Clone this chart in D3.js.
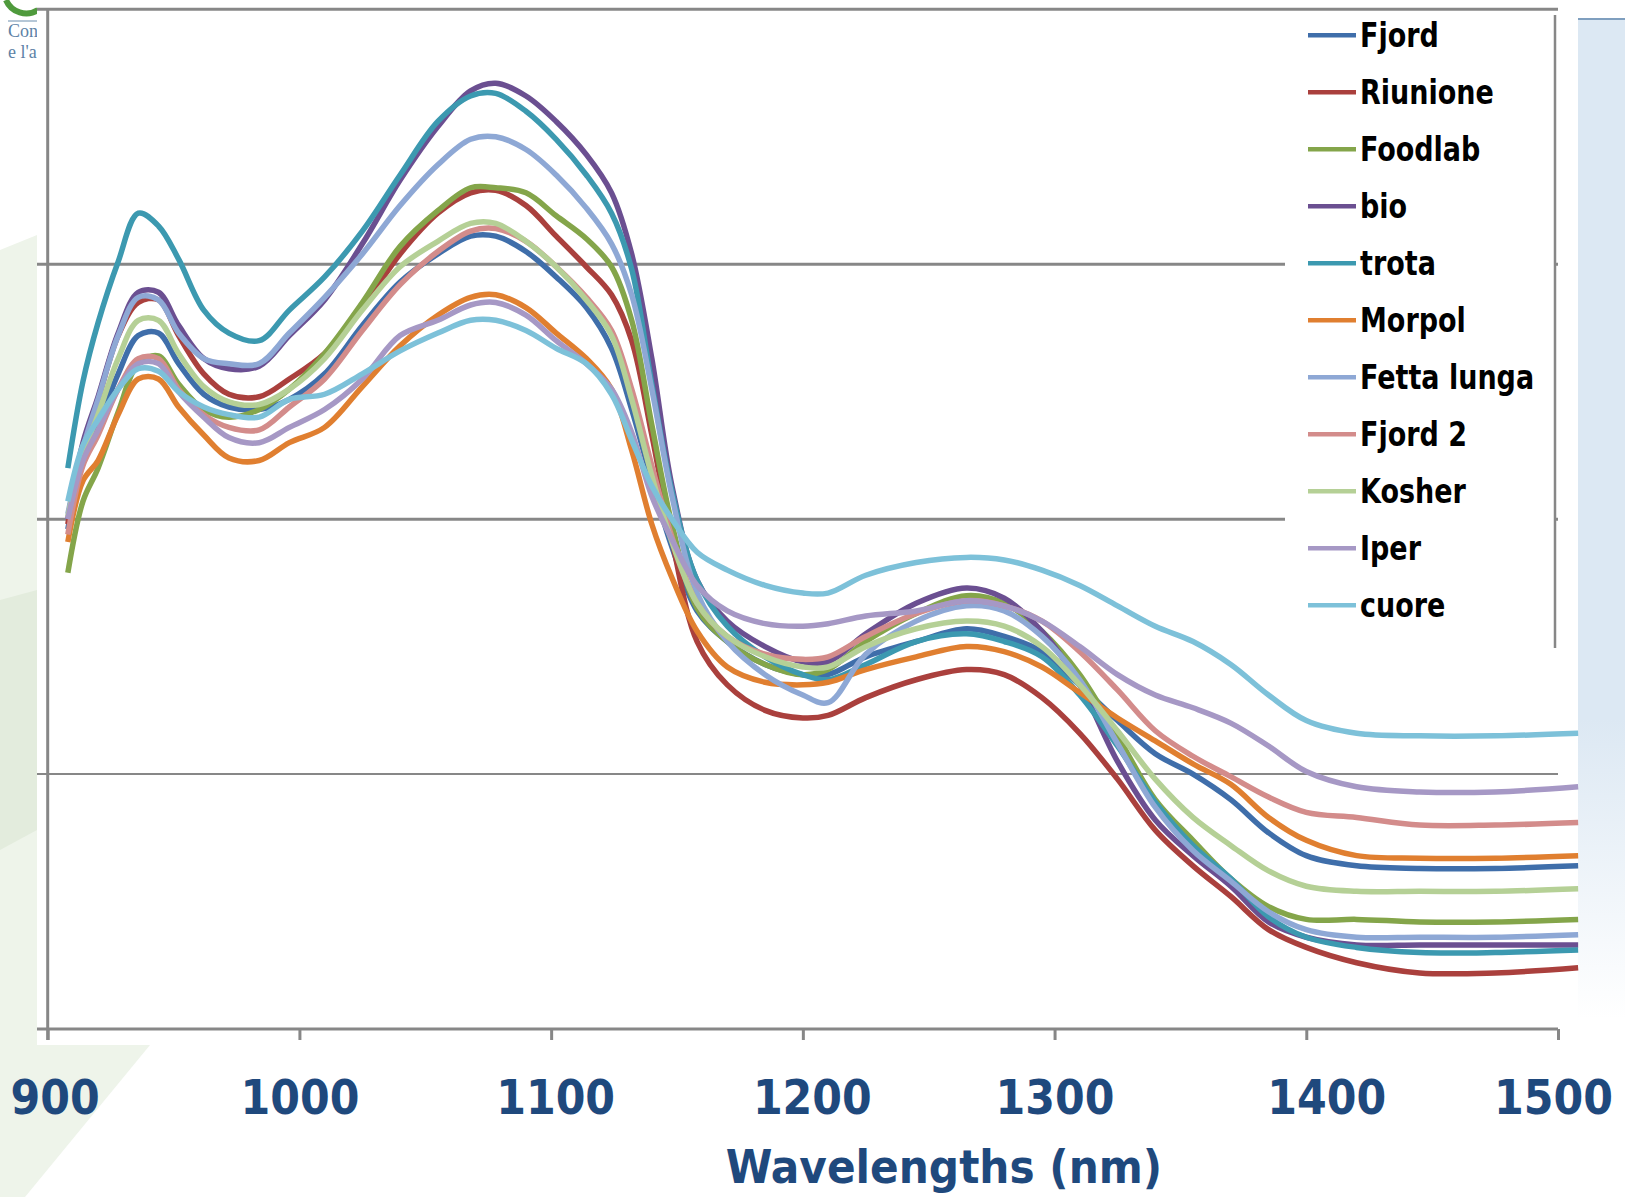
<!DOCTYPE html>
<html>
<head>
<meta charset="utf-8">
<script src="https://cdn.jsdelivr.net/npm/d3@7"></script>
<style>
  html, body { margin: 0; padding: 0; background: #fff; }
  svg { display: block; }
</style>
</head>
<body>
<svg width="1625" height="1197"></svg>
<script>
var wavelengths = [908, 914, 920, 928, 936, 944, 952, 962, 972, 984, 996, 1010, 1025, 1040, 1055, 1068, 1078, 1090, 1102, 1114,
  1124, 1132, 1140, 1148, 1158, 1170, 1185, 1200, 1210, 1225, 1245, 1265, 1280, 1295, 1310, 1325, 1340, 1355, 1370, 1385,
  1400, 1420, 1445, 1475, 1508];

// one array per sample (y units are arbitrary, the chart shows no y labels)
var fjord      = [196,223,237,257,272,273,261,249,244,243,247,257,276,293,304,311,311,305,295,283,267,243,215,189,164,152,143,139,139,146,152,157,154,148,135,121,108,100,90,77,68,64,63,63,64];
var riunione   = [198,229,247,272,285,286,272,257,249,248,255,265,283,304,320,328,329,323,311,299,288,270,233,192,152,135,125,122,123,130,137,141,139,130,116,98,78,64,52,39,32,26,22,22,24];
var foodlab    = [179,207,220,242,261,264,253,243,240,243,251,265,285,307,321,330,330,328,319,310,299,278,237,198,165,152,143,139,141,152,163,170,167,156,139,115,90,74,59,48,43,43,42,42,43];
var bio        = [200,230,248,273,289,289,276,263,259,260,272,286,308,333,354,368,371,366,356,343,328,304,263,213,176,160,150,144,144,155,167,173,169,156,135,105,82,68,56,42,36,33,33,33,33];
var trota      = [220,254,277,301,320,315,302,282,273,270,282,295,313,335,356,366,367,360,349,335,320,298,253,211,176,158,146,139,137,143,152,155,152,146,131,111,89,72,59,44,36,32,30,30,31];
var morpol     = [191,215,223,241,255,255,244,233,224,223,230,236,252,268,280,287,288,283,273,263,251,227,198,177,156,142,136,135,136,141,146,150,148,142,132,122,113,104,96,83,74,68,67,67,68];
var fettaLunga = [202,228,247,272,287,286,273,263,261,261,273,287,304,323,339,349,350,345,335,322,308,288,251,209,171,152,139,131,128,147,160,166,164,154,137,112,87,70,58,46,39,36,36,36,37];
var fjord2     = [194,221,233,251,263,263,251,241,236,235,244,255,274,292,305,313,314,309,299,287,274,251,221,193,167,154,147,145,146,154,163,168,166,160,148,133,117,107,99,91,85,83,80,80,81];
var kosher     = [201,225,241,263,278,278,265,252,246,245,251,263,282,299,309,316,316,309,299,286,272,247,217,191,167,154,146,142,142,150,157,160,158,150,135,117,98,83,72,62,56,54,54,54,55];
var iper       = [200,223,235,251,261,261,250,240,232,230,236,243,255,272,278,284,285,280,270,261,251,234,209,192,174,164,159,158,159,162,164,168,166,160,150,139,131,126,120,111,101,95,93,93,95];
var cuore      = [207,229,239,251,259,258,250,244,241,240,247,249,257,266,273,278,278,274,267,261,249,231,213,200,187,180,174,171,171,178,183,185,184,180,174,166,158,152,143,131,121,116,115,115,116];

var seriesNames  = ["Fjord", "Riunione", "Foodlab", "bio", "trota", "Morpol", "Fetta lunga", "Fjord 2", "Kosher", "Iper", "cuore"];
var seriesColors = ["#3f6eaa", "#aa403d", "#84a54a", "#6b4f91", "#3c99b0", "#e07f30", "#8ea8d5", "#d38c8b", "#b5d096", "#a698c5", "#7dc1d9"];
var seriesValues = [fjord, riunione, foodlab, bio, trota, morpol, fettaLunga, fjord2, kosher, iper, cuore];

var xTicks = [900, 1000, 1100, 1200, 1300, 1400, 1500];
var yGrid = [100, 200, 300, 400];
var xTitle = "Wavelengths (nm)";

var series = seriesNames.map(function(name, i) {
  return {
    name: name,
    color: seriesColors[i],
    points: wavelengths.map(function(w, j) { return [w, seriesValues[i][j]]; })
  };
});

var svg = d3.select("svg");
var x = d3.scaleLinear().domain([900, 1500]).range([47.7, 1558]);
var y = d3.scaleLinear().domain([0, 400]).range([1029, 9.3]);
var axisColor = "#878787";

// slide background bits around the chart
svg.append("polygon")
  .attr("points", "0,250 37,235 37,1045 150,1045 25,1197 0,1197")
  .attr("fill", "#eef4ea");
svg.append("polygon")
  .attr("points", "0,600 37,590 37,830 0,850")
  .attr("fill", "#e3ecdd");
var grad = svg.append("defs").append("linearGradient")
  .attr("id", "panelFade").attr("x1", 0).attr("y1", 0).attr("x2", 0).attr("y2", 1);
grad.append("stop").attr("offset", "0%").attr("stop-color", "#dce8f3");
grad.append("stop").attr("offset", "70%").attr("stop-color", "#dce8f3");
grad.append("stop").attr("offset", "100%").attr("stop-color", "#ffffff");
svg.append("rect")
  .attr("x", 1578).attr("y", 19).attr("width", 47).attr("height", 1000)
  .attr("fill", "url(#panelFade)");
svg.append("line")
  .attr("x1", 1578).attr("x2", 1625).attr("y1", 19).attr("y2", 19)
  .attr("stroke", "#7f9fbf").attr("stroke-width", 2);

// chart area
svg.append("rect")
  .attr("x", 37).attr("y", 0).attr("width", 1541).attr("height", 1045)
  .attr("fill", "#fff");

// logo fragment top left
svg.append("path")
  .attr("d", "M6,0 A22,22 0 0 0 38,10")
  .attr("fill", "none").attr("stroke", "#4f9a3c").attr("stroke-width", 6);
svg.append("line")
  .attr("x1", 8).attr("x2", 37).attr("y1", 21).attr("y2", 21)
  .attr("stroke", "#6d8fae").attr("stroke-width", 1);
svg.append("text").attr("x", 8).attr("y", 37)
  .style("font-family", "Liberation Serif").style("font-size", "18px").attr("fill", "#5d82a6")
  .text("Cons");
svg.append("text").attr("x", 8).attr("y", 58)
  .style("font-family", "Liberation Serif").style("font-size", "18px").attr("fill", "#5d82a6")
  .text("e l'a");
svg.append("rect").attr("x", 37).attr("y", 0).attr("width", 30).attr("height", 70).attr("fill", "#fff");

// horizontal gridlines
svg.selectAll("line.grid")
  .data(yGrid)
  .enter()
  .append("line")
  .attr("class", "grid")
  .attr("x1", 37).attr("x2", 1558)
  .attr("y1", function(d) { return y(d); })
  .attr("y2", function(d) { return y(d); })
  .attr("stroke", axisColor)
  .attr("stroke-width", function(d) { return d === 100 ? 2 : 3; });

// y axis line
svg.append("line")
  .attr("x1", x(900)).attr("x2", x(900))
  .attr("y1", y(400)).attr("y2", y(0) + 11)
  .attr("stroke", axisColor).attr("stroke-width", 3);

// x axis line + ticks + labels
svg.append("line")
  .attr("x1", 37).attr("x2", x(1500))
  .attr("y1", y(0)).attr("y2", y(0))
  .attr("stroke", axisColor).attr("stroke-width", 3);

// the labels in the picture sit a little off their ticks
var labelShift = [7, 0, 4, 9, 0, 20, -5];

var xAxis = svg.append("g")
  .attr("transform", "translate(0," + y(0) + ")")
  .call(d3.axisBottom(x).tickValues(xTicks).tickSize(11).tickPadding(40).tickSizeOuter(0).tickFormat(d3.format("d")));
xAxis.select(".domain").remove();
xAxis.selectAll(".tick line").attr("stroke", axisColor).attr("stroke-width", 3);
xAxis.selectAll(".tick text")
  .attr("dx", function(d, i) { return labelShift[i]; })
  .attr("fill", "#1f497d")
  .style("font-family", "'DejaVu Sans Condensed', 'DejaVu Sans'")
  .style("font-weight", "bold")
  .style("font-size", "47.5px");

svg.append("text")
  .attr("x", 944).attr("y", 1183)
  .attr("text-anchor", "middle")
  .attr("fill", "#1f497d")
  .style("font-family", "'DejaVu Sans Condensed', 'DejaVu Sans'")
  .style("font-weight", "bold")
  .style("font-size", "47px")
  .text(xTitle);

// spectra
var line = d3.line()
  .x(function(d) { return x(d[0]); })
  .y(function(d) { return y(d[1]); })
  .curve(d3.curveCatmullRom.alpha(0.5));

svg.selectAll("path.spectrum")
  .data(series)
  .enter()
  .append("path")
  .attr("class", "spectrum")
  .attr("d", function(d) { return line(d.points); })
  .attr("fill", "none")
  .attr("stroke", function(d) { return d.color; })
  .attr("stroke-width", 5.5)
  .attr("stroke-linejoin", "round");

// legend
svg.append("rect")
  .attr("x", 1285).attr("y", 15).attr("width", 270).attr("height", 633)
  .attr("fill", "#fff");
svg.append("line")
  .attr("x1", 1555).attr("x2", 1555).attr("y1", 15).attr("y2", 648)
  .attr("stroke", axisColor).attr("stroke-width", 2.5);

var legend = svg.selectAll("g.legend")
  .data(series)
  .enter()
  .append("g")
  .attr("class", "legend")
  .attr("transform", function(d, i) { return "translate(0," + (35.2 + 57 * i) + ")"; });

legend.append("line")
  .attr("x1", 1308).attr("x2", 1356)
  .attr("stroke", function(d) { return d.color; })
  .attr("stroke-width", 4.5);

legend.append("text")
  .attr("transform", "translate(1360,12) scale(1,1.12)")
  .attr("fill", "#000")
  .style("font-family", "'DejaVu Sans Condensed', 'DejaVu Sans'")
  .style("font-weight", "bold")
  .style("font-size", "30px")
  .text(function(d) { return d.name; });
</script>
</body>
</html>
